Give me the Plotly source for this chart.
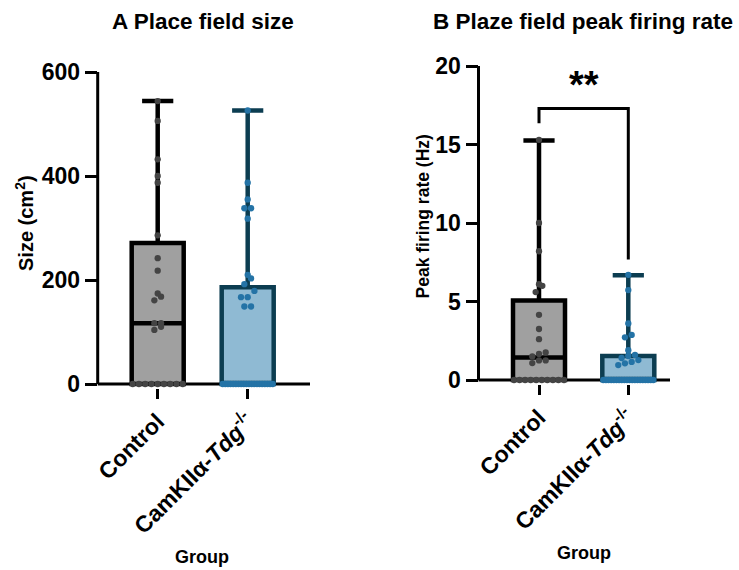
import plotly.graph_objects as go

# ---- data -----------------------------------------------------------------
groups = ["Control", "CamKIIα-<i>Tdg</i><sup>-/-</sup>"]

# A: place field size (cm^2), individual fields
size_control = [0, 0, 0, 0, 0, 0, 0, 0, 0, 104, 110, 117, 117, 161, 168, 174,
                218, 242, 286, 387, 400, 432, 506, 544]
size_tdg = [0] * 20 + [149, 149, 167, 167, 179, 192, 203, 210, 318, 338, 338,
                       355, 387, 526]
# box summaries: min, Q1, median, Q3, max
size_min = [0, 0]
size_q1 = [0, 0]
size_median = [117, 0]
size_q3 = [271, 186]
size_max = [544, 526]

# B: peak firing rate (Hz)
rate_control = [0] * 10 + [1.08, 1.25, 1.25, 1.5, 1.66, 1.75, 2.6, 3.25, 4.15,
                           5.6, 6.0, 6.1, 8.2, 10.0, 15.3]
rate_tdg = [0] * 20 + [0.95, 1.06, 1.15, 1.27, 1.4, 1.53, 1.6, 1.9, 2.72, 2.87,
                       3.6, 5.73, 6.7]
rate_min = [0, 0]
rate_q1 = [0, 0]
rate_median = [1.44, 0]
rate_q3 = [5.07, 1.53]
rate_max = [15.26, 6.67]

size_ticks = [0, 200, 400, 600]
rate_ticks = [0, 5, 10, 15, 20]
significance = "**"

# ---- styling ----------------------------------------------------------------
W, H = 739, 570
FONT = "Liberation Sans, Arial, Helvetica, sans-serif"
fills = ["#a0a0a0", "#8fbad3"]
edges = ["#000000", "#0c3d51"]
dots = ["#444444", "#2473a6"]


def px_x(p):
    return p / W


def px_y(p):
    return 1 - p / H


# panel frames in pixels: left, right, top, bottom
panels = {
    "A": dict(l=97.7, r=310.0, t=72.0, b=388.0, x0=157.7, dx=90.0,
              ytop=600, yzero=384.0),
    "B": dict(l=478.5, r=670.0, t=66.0, b=384.0, x0=539.0, dx=89.3,
              ytop=20, yzero=380.0),
}


def axis_ranges(p):
    xr = [(p["l"] - p["x0"]) / p["dx"], (p["r"] - p["x0"]) / p["dx"]]
    ppu = (p["yzero"] - p["t"]) / p["ytop"]
    yr = [-(p["b"] - p["yzero"]) / ppu, p["ytop"]]
    return xr, yr, ppu


def swarm(values, center, ppx, ppy, dot=6.3, half_width=25.0):
    """Simple beeswarm: points closer than one dot vertically share a row."""
    vals = sorted(values)
    rows, cur = [], [vals[0]]
    for v in vals[1:]:
        if (v - cur[0]) * ppy < dot:
            cur.append(v)
        else:
            rows.append(cur)
            cur = [v]
    rows.append(cur)
    xs, ys = [], []
    for row in rows:
        n = len(row)
        step = dot + 0.4 if n == 1 else min(dot + 0.4, 2 * half_width / (n - 1))
        for i, v in enumerate(row):
            xs.append(center + (i - (n - 1) / 2) * step / ppx)
            ys.append(v)
    return xs, ys


fig = go.Figure()

datasets = {
    "A": (("x", "y"), [size_control, size_tdg],
          [size_min, size_q1, size_median, size_q3, size_max]),
    "B": (("x2", "y2"), [rate_control, rate_tdg],
          [rate_min, rate_q1, rate_median, rate_q3, rate_max]),
}

ranges = {}
for key, ((xa, ya), pts, (mn, q1, med, q3, mx)) in datasets.items():
    p = panels[key]
    xr, yr, ppu = axis_ranges(p)
    ranges[key] = (xr, yr)
    box_w = 52.0 / p["dx"]
    for i in range(len(groups)):
        fig.add_trace(go.Box(
            x=[i], q1=[q1[i]], median=[med[i]], q3=[q3[i]],
            lowerfence=[mn[i]], upperfence=[mx[i]],
            width=box_w, whiskerwidth=0.6,
            fillcolor=fills[i], line=dict(color=edges[i], width=4.5),
            boxpoints=False, hoverinfo="skip", showlegend=False,
            xaxis=xa, yaxis=ya,
        ))
    for i in range(len(groups)):
        sx, sy = swarm(pts[i], i, p["dx"], ppu)
        fig.add_trace(go.Scatter(
            x=sx, y=sy, mode="markers",
            marker=dict(size=6.3, color=dots[i], line=dict(width=0)),
            cliponaxis=False, hoverinfo="skip", showlegend=False,
            xaxis=xa, yaxis=ya,
        ))

tickfont = dict(family=FONT, size=23, color="black", weight="bold")


def xaxis_cfg(key, anchor):
    p = panels[key]
    return dict(
        domain=[px_x(p["l"]), px_x(p["r"])], range=ranges[key][0],
        anchor=anchor, automargin=False,
        tickmode="array", tickvals=list(range(len(groups))), ticktext=groups,
        tickangle=-45, ticks="outside", ticklen=10, tickwidth=3,
        tickcolor="black", tickfont=tickfont, showline=False,
        showgrid=False, zeroline=False, fixedrange=True,
    )


def yaxis_cfg(key, tickvals, anchor):
    p = panels[key]
    return dict(
        domain=[px_y(p["b"]), px_y(p["t"])], range=ranges[key][1],
        anchor=anchor, automargin=False,
        tickmode="array", tickvals=tickvals, ticks="outside", ticklen=12,
        tickwidth=3, tickcolor="black", tickfont=tickfont, showline=False,
        showgrid=False, zeroline=False, fixedrange=True,
    )


shapes = []
for key, (xa, ya), top in (("A", ("x", "y"), size_ticks[-1]),
                            ("B", ("x2", "y2"), rate_ticks[-1])):
    # axis lines meeting at the origin
    shapes.append(dict(type="line", xref=f"{xa} domain", yref=ya,
                       x0=0, x1=0, y0=0, y1=top, layer="below",
                       line=dict(color="black", width=3)))
    shapes.append(dict(type="line", xref=f"{xa} domain", yref=ya,
                       x0=0, x1=1, y0=0, y1=0, layer="below",
                       line=dict(color="black", width=3)))

# significance bracket between the two groups of panel B
br_top = 17.3
shapes.append(dict(
    type="path", xref="x2", yref="y2",
    path=(f"M 0,{rate_max[0] + 1.1} L 0,{br_top} "
          f"L 1,{br_top} L 1,{rate_max[1] + 1.0}"),
    line=dict(color="black", width=3), layer="above",
))

annotations = [
    dict(text="A Place field size", x=px_x(203), y=px_y(21), xref="paper",
         yref="paper", showarrow=False, xanchor="center", yanchor="middle",
         font=dict(family=FONT, size=22.5, color="black", weight="bold")),
    dict(text="B Plaze field peak firing rate", x=px_x(582.5), y=px_y(21),
         xref="paper", yref="paper", showarrow=False, xanchor="center",
         yanchor="middle",
         font=dict(family=FONT, size=22.5, color="black", weight="bold")),
    dict(text="Size (cm<sup>2</sup>)", x=px_x(24), y=px_y(223), xref="paper",
         yref="paper", showarrow=False, textangle=-90, xanchor="center",
         yanchor="middle",
         font=dict(family=FONT, size=20, color="black", weight="bold")),
    dict(text="Peak firing rate (Hz)", x=px_x(422.5), y=px_y(217),
         xref="paper", yref="paper", showarrow=False, textangle=-90,
         xanchor="center", yanchor="middle",
         font=dict(family=FONT, size=17.5, color="black", weight="bold")),
    dict(text="Group", x=px_x(202.3), y=px_y(556.5), xref="paper",
         yref="paper", showarrow=False, xanchor="center", yanchor="middle",
         font=dict(family=FONT, size=18, color="black", weight="bold")),
    dict(text="Group", x=px_x(584.3), y=px_y(552.5), xref="paper",
         yref="paper", showarrow=False, xanchor="center", yanchor="middle",
         font=dict(family=FONT, size=18, color="black", weight="bold")),
    dict(text=significance, x=0.5, y=br_top, xref="x2", yref="y2",
         showarrow=False, xanchor="center", yanchor="bottom", yshift=0,
         font=dict(family=FONT, size=38, color="black", weight="bold")),
]

fig.update_layout(
    width=W, height=H,
    margin=dict(l=0, r=0, t=0, b=0, pad=0, autoexpand=False),
    paper_bgcolor="white", plot_bgcolor="rgba(0,0,0,0)",
    font=dict(family=FONT, color="black"),
    xaxis=xaxis_cfg("A", "y"), yaxis=yaxis_cfg("A", size_ticks, "x"),
    xaxis2=xaxis_cfg("B", "y2"), yaxis2=yaxis_cfg("B", rate_ticks, "x2"),
    shapes=shapes, annotations=annotations, showlegend=False,
    boxgap=0, boxgroupgap=0,
)

fig.write_html("out.html", config=dict(displayModeBar=False))
